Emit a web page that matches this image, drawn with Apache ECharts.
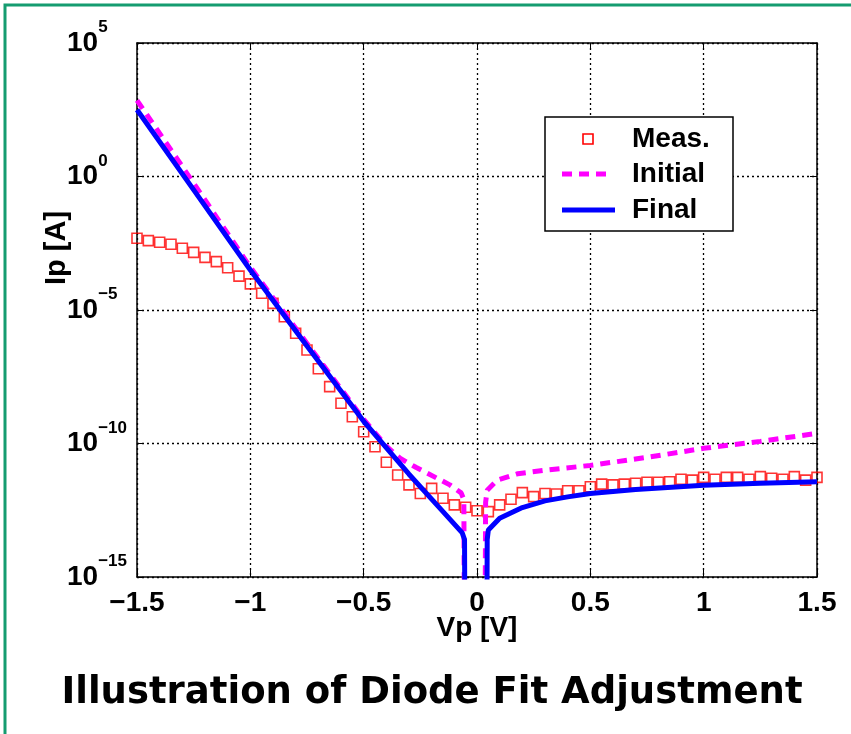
<!DOCTYPE html>
<html>
<head>
<meta charset="utf-8">
<script src="https://cdn.jsdelivr.net/npm/echarts@6/dist/echarts.min.js"></script>
<style>
  html, body { margin: 0; padding: 0; background: #fff; }
  #main { width: 851px; height: 734px; }
</style>
</head>
<body>
<div id="main"></div>
<script>
// measured points (Vp in V, Ip as log10 exponent)
var measV = [-1.5,-1.45,-1.4,-1.35,-1.3,-1.25,-1.2,-1.15,-1.1,-1.05,
  -1.0,-0.95,-0.9,-0.85,-0.8,-0.75,-0.7,-0.65,-0.6,-0.55,
  -0.5,-0.45,-0.4,-0.35,-0.3,-0.25,-0.2,-0.15,-0.1,-0.05,
  0,0.05,0.1,0.15,0.2,0.25,0.3,0.35,0.4,0.45,
  0.5,0.55,0.6,0.65,0.7,0.75,0.8,0.85,0.9,0.95,
  1.0,1.05,1.1,1.15,1.2,1.25,1.3,1.35,1.4,1.45,1.5];
var measExp = [-2.31,-2.40,-2.46,-2.54,-2.69,-2.84,-3.03,-3.19,-3.42,-3.73,
  -4.02,-4.37,-4.75,-5.25,-5.87,-6.50,-7.20,-7.87,-8.49,-9.00,
  -9.56,-10.12,-10.70,-11.18,-11.55,-11.87,-11.68,-12.05,-12.30,-12.39,
  -12.52,-12.55,-12.30,-12.09,-11.84,-11.99,-11.87,-11.89,-11.77,-11.77,
  -11.62,-11.52,-11.55,-11.52,-11.49,-11.45,-11.45,-11.43,-11.34,-11.37,
  -11.27,-11.34,-11.27,-11.27,-11.34,-11.24,-11.30,-11.34,-11.24,-11.37,-11.27];

// initial model
var initV = [-1.5,-1.25,-1.0,-0.75,-0.5,-0.45,-0.4,-0.34,-0.27,-0.19,-0.12,-0.07,-0.058,-0.055,
  0.035,0.038,0.045,0.09,0.18,0.3,0.5,0.75,1.0,1.25,1.5];
var initExp = [2.85,-0.25,-3.4,-6.25,-9.1,-9.6,-10.1,-10.55,-10.89,-11.24,-11.55,-11.85,-12.1,-18,
  -18,-12.2,-11.75,-11.37,-11.13,-11.0,-10.82,-10.52,-10.18,-9.92,-9.62];

// final fit
var finalV = [-1.5,-1.25,-1.0,-0.75,-0.5,-0.3,-0.15,-0.065,-0.055,-0.053,
  0.043,0.045,0.05,0.1,0.2,0.3,0.4,0.5,0.7,1.0,1.25,1.5];
var finalExp = [2.5,-0.5,-3.5,-6.35,-9.17,-11.15,-12.55,-13.35,-13.6,-18,
  -18,-13.6,-13.24,-12.8,-12.4,-12.15,-12.0,-11.87,-11.72,-11.56,-11.49,-11.43];

function pairs(xs, es) {
  return xs.map(function (x, i) { return [x, Math.pow(10, es[i])]; });
}
function minus(v) {
  return v < 0 ? '\u2212' + (-v) : String(v);
}

var FONT = 'Liberation Sans';
var myChart = echarts.init(document.getElementById('main'));

var yLabel = {
  fontFamily: FONT,
  margin: 70,
  align: 'left',
  padding: [0, 0, 10, 0],
  formatter: function (v) {
    var e = Math.round(Math.log10(v));
    return '{b|10}{s|' + minus(e) + '}';
  },
  rich: {
    b: { fontSize: 28, fontWeight: 'bold', fontFamily: FONT, color: '#000', padding: [10, 0, 0, 0] },
    s: { fontSize: 17, fontWeight: 'bold', fontFamily: FONT, color: '#000', verticalAlign: 'top' }
  }
};
var gridDots = { color: '#000', type: [2, 3], width: 1.3 };

var option = {
  animation: false,
  backgroundColor: '#fff',
  grid: { left: 137, top: 43, right: 34, bottom: 157 },
  xAxis: [{
    type: 'value', min: -1.5, max: 1.5, interval: 0.5,
    axisLine: { onZero: false, lineStyle: { color: '#000', width: 1.5 } },
    axisTick: { inside: true, length: 7, lineStyle: { color: '#000' } },
    axisLabel: { fontFamily: FONT, fontSize: 28, fontWeight: 'bold', color: '#000', margin: 12,
      formatter: minus },
    splitLine: { show: true, lineStyle: gridDots }
  }, {
    type: 'value', position: 'top', min: -1.5, max: 1.5, interval: 0.5,
    axisLine: { onZero: false, lineStyle: { color: '#000', width: 1.5 } },
    axisTick: { inside: true, length: 7, lineStyle: { color: '#000' } },
    axisLabel: { show: false }, splitLine: { show: false }
  }],
  yAxis: [{
    type: 'log', logBase: 10, min: 1e-15, max: 1e5, interval: 5,
    axisLine: { show: true, onZero: false, lineStyle: { color: '#000', width: 1.5 } },
    axisTick: { show: true, inside: true, length: 7, lineStyle: { color: '#000' } },
    minorTick: { show: false },
    axisLabel: yLabel,
    splitLine: { show: true, lineStyle: gridDots }
  }, {
    type: 'log', logBase: 10, position: 'right', min: 1e-15, max: 1e5, interval: 5,
    axisLine: { show: true, onZero: false, lineStyle: { color: '#000', width: 1.5 } },
    axisTick: { show: true, inside: true, length: 7, lineStyle: { color: '#000' } },
    axisLabel: { show: false }, splitLine: { show: false }
  }],
  series: [{
    name: 'Meas.', type: 'scatter', data: pairs(measV, measExp),
    symbol: 'rect', symbolSize: 10,
    itemStyle: { color: 'rgba(255,255,255,0)', borderColor: '#ff0000', borderWidth: 1.6 }
  }, {
    name: 'Initial', type: 'line', data: pairs(initV, initExp),
    showSymbol: false, symbol: 'none',
    lineStyle: { color: '#ff00ff', width: 5, type: [10, 7] }
  }, {
    name: 'Final', type: 'line', data: pairs(finalV, finalExp),
    showSymbol: false, symbol: 'none',
    lineStyle: { color: '#0000ff', width: 5 }
  }],
  graphic: [
    { type: 'rect', shape: { x: 5, y: 5, width: 900, height: 800 },
      style: { fill: 'none', stroke: '#159c70', lineWidth: 3 }, z: 100 },
    // legend box
    { type: 'rect', shape: { x: 545, y: 117, width: 188, height: 114 },
      style: { fill: '#fff', stroke: '#000', lineWidth: 1.5 }, z: 100 },
    { type: 'rect', shape: { x: 583, y: 134, width: 10, height: 10 },
      style: { fill: '#fff', stroke: '#ff0000', lineWidth: 1.6 }, z: 101 },
    { type: 'line', shape: { x1: 562, y1: 174, x2: 610, y2: 174 },
      style: { stroke: '#ff00ff', lineWidth: 5, lineDash: [10, 7] }, z: 101 },
    { type: 'line', shape: { x1: 562, y1: 210, x2: 615, y2: 210 },
      style: { stroke: '#0000ff', lineWidth: 5 }, z: 101 },
    { type: 'text', x: 632, y: 139, z: 101,
      style: { text: 'Meas.', font: 'bold 28px "Liberation Sans"', fill: '#000', verticalAlign: 'middle' } },
    { type: 'text', x: 632, y: 174, z: 101,
      style: { text: 'Initial', font: 'bold 28px "Liberation Sans"', fill: '#000', verticalAlign: 'middle' } },
    { type: 'text', x: 632, y: 210, z: 101,
      style: { text: 'Final', font: 'bold 28px "Liberation Sans"', fill: '#000', verticalAlign: 'middle' } },
    // axis names
    { type: 'text', x: 57, y: 248, rotation: Math.PI / 2, z: 101,
      style: { text: 'Ip [A]', font: 'bold 29px "Liberation Sans"', fill: '#000', align: 'center', verticalAlign: 'middle' } },
    { type: 'text', x: 477, y: 628, z: 101,
      style: { text: 'Vp [V]', font: 'bold 28px "Liberation Sans"', fill: '#000', align: 'center', verticalAlign: 'middle' } },
    // caption
    { type: 'text', x: 432, y: 693, z: 101,
      style: { text: 'Illustration of Diode Fit Adjustment', font: 'bold 37px "DejaVu Sans"', fill: '#000', align: 'center', verticalAlign: 'middle' } }
  ]
};

myChart.setOption(option);
</script>
</body>
</html>
